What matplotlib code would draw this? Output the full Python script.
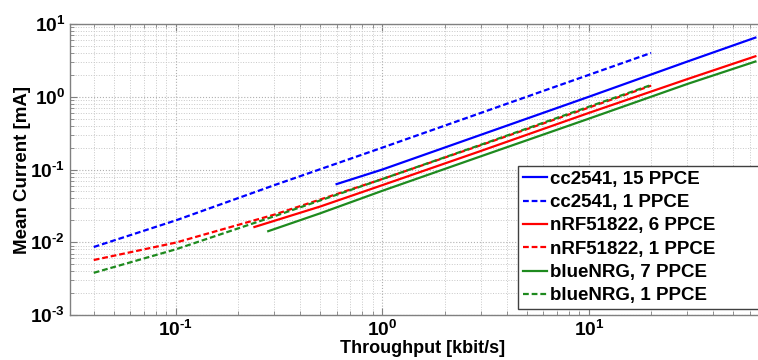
import matplotlib
matplotlib.use("Agg")
import matplotlib.pyplot as plt
from matplotlib.ticker import LogLocator, NullFormatter, FuncFormatter
import numpy as np

plt.rcParams['font.family'] = ['Liberation Sans', 'DejaVu Sans']
plt.rcParams['font.weight'] = 'bold'
plt.rcParams['mathtext.fontset'] = 'custom'
plt.rcParams['mathtext.rm'] = 'Liberation Sans:bold'
plt.rcParams['mathtext.it'] = 'Liberation Sans:bold'
plt.rcParams['mathtext.bf'] = 'Liberation Sans:bold'
plt.rcParams['mathtext.default'] = 'regular'

# throughput [kbit/s] vs mean current [mA]
# 1 packet per connection event
t_one = [0.04, 0.1, 0.3, 1, 3, 10, 20]
cc_one = [0.0086, 0.020, 0.061, 0.20, 0.60, 2.0, 4.0]
nrf_one = [0.0057, 0.0099, 0.0240, 0.074, 0.216, 0.71, 1.42]
bnrg_one = [0.0038, 0.0080, 0.0228, 0.074, 0.219, 0.73, 1.45]

# max packets per connection event
t_cc_max = [0.6, 1, 3, 10, 30, 64]
cc_max = [0.063, 0.100, 0.30, 1.0, 3.05, 6.5]
t_nrf_max = [0.24, 0.5, 1, 3, 10, 30, 64]
nrf_max = [0.0162, 0.031, 0.061, 0.18, 0.60, 1.75, 3.6]
t_bnrg_max = [0.28, 0.5, 1, 3, 10, 30, 64]
bnrg_max = [0.0142, 0.025, 0.051, 0.152, 0.50, 1.5, 3.05]

green = '#1e8a1e'
lw = 1.6
dash = (2.6, 1.3)


def pow10(v, pos):
    e = int(round(np.log10(v)))
    if e < 0:
        return r'$10^{\text{-}%d}$' % (-e)
    return r'$10^{%d}$' % e


fig = plt.figure(figsize=(7.58, 3.6), dpi=100, facecolor='white')
ax = fig.add_axes([70/758, 45/360, 705.4/758, 291/360])

ax.plot(t_cc_max, cc_max, color='blue', lw=lw, label='cc2541, 15 PPCE')
ax.plot(t_one, cc_one, color='blue', lw=lw, ls='--', dashes=dash, label='cc2541, 1 PPCE')
ax.plot(t_nrf_max, nrf_max, color='red', lw=lw, label='nRF51822, 6 PPCE')
ax.plot(t_one, nrf_one, color='red', lw=lw, ls='--', dashes=dash, label='nRF51822, 1 PPCE')
ax.plot(t_bnrg_max, bnrg_max, color=green, lw=lw, label='blueNRG, 7 PPCE')
ax.plot(t_one, bnrg_one, color=green, lw=lw, ls='--', dashes=dash, label='blueNRG, 1 PPCE')

ax.set_xscale('log')
ax.set_yscale('log')
ax.set_xlim(0.0307, 80)
ax.set_ylim(1e-3, 10)

ax.xaxis.set_major_locator(LogLocator(base=10))
ax.xaxis.set_minor_locator(LogLocator(base=10, subs=range(2, 10)))
ax.yaxis.set_minor_locator(LogLocator(base=10, subs=range(2, 10)))
ax.xaxis.set_major_formatter(FuncFormatter(pow10))
ax.yaxis.set_major_formatter(FuncFormatter(pow10))
ax.xaxis.set_minor_formatter(NullFormatter())
ax.yaxis.set_minor_formatter(NullFormatter())

ax.grid(True, which='major', ls=':', color='#b0b0b0', lw=0.8)
ax.grid(True, which='minor', ls=':', color='#c8c8c8', lw=0.7)
ax.set_axisbelow(True)

for s in ax.spines.values():
    s.set_color('#808080')
    s.set_linewidth(1.0)
ax.tick_params(which='both', direction='in', top=True, right=True, colors='#808080',
               labelcolor='black', labelsize=13.8)
ax.tick_params(which='major', length=5)
ax.tick_params(which='minor', length=3)
ax.tick_params(axis='x', which='major', pad=3.5)
ax.tick_params(axis='y', which='major', pad=3.5)

ax.set_xlabel('Throughput [kbit/s]', fontsize=13, fontweight='bold', labelpad=0)
ax.set_ylabel('Mean Current [mA]', fontsize=13.5, fontweight='bold', labelpad=-1)

leg = ax.legend(loc='upper left', bbox_to_anchor=(0.635, 0.0, 0.5, 0.512), mode='expand',
                fontsize=13.5, handlelength=1.3, handletextpad=0.15, labelspacing=0.33,
                borderpad=0.25, borderaxespad=0.0, fancybox=False, framealpha=1)
leg.get_frame().set_edgecolor('#404040')
leg.get_frame().set_linewidth(1.0)

fig.savefig('out.png', dpi=100, facecolor='white')
